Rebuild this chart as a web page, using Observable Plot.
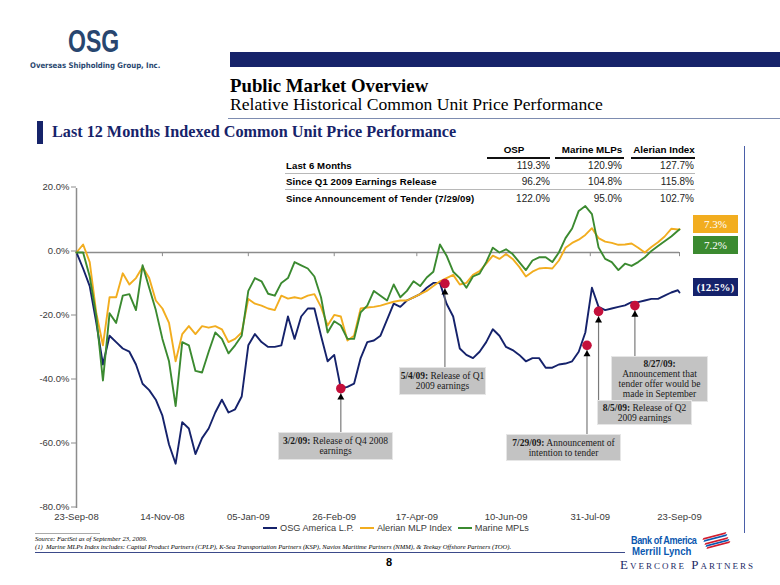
<!DOCTYPE html>
<html><head><meta charset="utf-8">
<script src="https://cdn.jsdelivr.net/npm/d3@7"></script>
<script src="https://cdn.jsdelivr.net/npm/@observablehq/plot@0.6"></script>
<style>
body{margin:0;background:#fff;}
#page{position:relative;width:780px;height:585px;overflow:hidden;font-family:"Liberation Sans",Arial,sans-serif;color:#000;}
#page svg{position:absolute;left:0;top:0;}
.abs{position:absolute;white-space:nowrap;}
.serif{font-family:"Liberation Serif","DejaVu Serif",serif;}
.box{position:absolute;background:#c3c3c3;border:1px solid #e6e6e6;font-family:"Liberation Serif",serif;font-size:9.5px;line-height:10px;color:#1a1a1a;text-align:center;box-sizing:border-box;display:flex;align-items:center;justify-content:center;}
.box b{font-weight:bold;}
.endlab{position:absolute;left:693px;width:45px;height:18px;color:#fff;font-family:"Liberation Serif",serif;font-size:11px;line-height:18px;text-align:center;}
</style></head><body><div id="page"></div>
<script>
// ---------- DATA ----------
const dates = ["2008-09-23","2008-09-27","2008-10-01","2008-10-05","2008-10-09","2008-10-13","2008-10-17","2008-10-21","2008-10-25","2008-10-29",
"2008-11-02","2008-11-06","2008-11-10","2008-11-14","2008-11-18","2008-11-22","2008-11-26","2008-11-30","2008-12-04","2008-12-08",
"2008-12-12","2008-12-16","2008-12-20","2008-12-24","2008-12-28","2009-01-01","2009-01-05","2009-01-09","2009-01-13","2009-01-17",
"2009-01-21","2009-01-25","2009-01-29","2009-02-02","2009-02-06","2009-02-10","2009-02-14","2009-02-18","2009-02-22","2009-02-26",
"2009-03-02","2009-03-06","2009-03-10","2009-03-14","2009-03-18","2009-03-22","2009-03-26","2009-03-30","2009-04-03","2009-04-07",
"2009-04-11","2009-04-15","2009-04-19","2009-04-23","2009-04-27","2009-05-01","2009-05-05","2009-05-09","2009-05-13","2009-05-17",
"2009-05-21","2009-05-25","2009-05-29","2009-06-02","2009-06-06","2009-06-10","2009-06-14","2009-06-18","2009-06-22","2009-06-26",
"2009-06-30","2009-07-04","2009-07-08","2009-07-12","2009-07-16","2009-07-20","2009-07-24","2009-07-28","2009-08-01","2009-08-05",
"2009-08-09","2009-08-13","2009-08-17","2009-08-21","2009-08-25","2009-08-29","2009-09-02","2009-09-06","2009-09-10","2009-09-14",
"2009-09-18","2009-09-22","2009-09-23"];
const osgValues = [0,-5,-10.5,-22,-35,-26,-28,-30,-31,-35,
-41,-43,-46,-51,-60,-66,-53,-55,-63,-58,
-55,-50,-46,-50,-49,-45,-29,-25.5,-28,-29.5,
-29.5,-29,-20,-27,-20,-17.5,-17.5,-26,-34,-32,
-42.5,-42,-41,-33,-28,-27.5,-26,-21,-16,-17,
-15,-14,-13,-11,-9.5,-9.5,-16,-20,-30,-32,
-33,-31,-28,-24,-26,-29.5,-30.5,-32,-34,-33,
-33,-36,-36,-35,-34.7,-34,-31,-25,-11,-17,
-18,-17.5,-17,-16.5,-15.5,-15.5,-15,-14.5,-14.5,-13.5,
-12.5,-11.8,-12.5];
const alerianValues = [0,2.5,-3,-19,-29,-14,-14,-6.5,-10,-8,
-4.5,-8,-15,-17.5,-22,-34,-25.5,-23,-25.5,-23,
-23.5,-23,-24,-28,-27,-25,-14.5,-16,-16.6,-17.5,
-18,-13.5,-14.4,-14,-14.4,-13.5,-13,-17,-22.8,-19.5,
-20,-27.5,-26,-17.5,-17.2,-17,-16.6,-16,-15.4,-15,
-15,-14,-13,-12,-10.5,-9,-8,-7,-10,-9.5,
-7,-5.8,-3.5,-1,-2,-0.5,-2,-4.5,-7.5,-6,
-5,-4.8,-5,-2.5,1.5,3,4,5.5,7.6,4.5,
3.4,3,2.4,2.5,2.8,1.5,0,1.7,3.2,5,
7.4,7.2,7.3];
const marineValues = [0,0,-7.5,-20,-40,-19,-22,-13.5,-13,-18,
-4,-11,-18,-27,-34,-48,-28,-29,-37,-37.5,
-31,-25,-27,-31.5,-29,-26,-12,-8,-9,-12.9,
-13.5,-9.5,-8,-3,-4,-5,-7.5,-14,-25,-21.5,
-22.8,-27,-27,-18.7,-16.6,-12,-13.5,-15,-10,-14,
-12,-9,-10.5,-7.8,-6,2.5,-1,-6,-8,-11,
-7.5,-6.6,-3,1.5,0,1,-0.5,-3,-5.5,-2.5,
-1.5,-1.5,-3,0,4.5,7.5,13,14.5,12,1.6,
-2,-3,-5.5,-3.5,-4.2,-3,-1.5,0.5,2,3.5,
5,6.8,7.2];
const seriesNames = ["OSG America L.P.","Alerian MLP Index","Marine MPLs"];
const seriesColors = ["#15226b","#f2ad1f","#3b8a30"];
const xTickDates = ["2008-09-23","2008-11-14","2009-01-05","2009-02-26","2009-04-17","2009-06-10","2009-07-31","2009-09-23"];
const yTicks = [20,0,-20,-40,-60,-80];

const eventDates = ["2009-03-02","2009-05-04","2009-07-29","2009-08-05","2009-08-27"];
const eventValues = [-42.5,-9.7,-29,-18.4,-16.6];
const eventBold = ["3/2/09:","5/4/09:","7/29/09:","8/5/09:","8/27/09:"];
const eventText = [" Release of Q4 2008<br>earnings"," Release of Q1<br>2009 earnings"," Announcement of<br>intention to tender"," Release of Q2<br>2009 earnings","<br>Announcement that<br>tender offer would be<br>made in September"];

const tableCols = ["OSP","Marine MLPs","Alerian Index"];
const tableRows = ["Last 6 Months","Since Q1 2009 Earnings Release","Since Announcement of Tender (7/29/09)"];
const ospPerf = [119.3,96.2,122.0];
const marinePerf = [120.9,104.8,95.0];
const alerianPerf = [127.7,115.8,102.7];

// ---------- LAYOUT (pixels) ----------
const boxLayout = [
  {left:278, top:432, w:115, h:28},
  {left:399, top:367, w:87, h:28},
  {left:506, top:434, w:115, h:27},
  {left:597, top:400, w:95, h:25},
  {left:611, top:356, w:97, h:46}
];
const boxOrder = [0,1,2,4,3];

const parse = d3.utcParse("%Y-%m-%d");
const allValues = [osgValues, alerianValues, marineValues];
const rows = [];
seriesNames.forEach((s,i)=>dates.forEach((d,j)=>rows.push({date:parse(d), value:allValues[i][j], series:s})));

const W=780,H=585,mL=76,mR=101,mT=188,mB=77;
const yS = Plot.scale({y:{domain:[-80,20], range:[H-mB, mT]}});
const events = eventDates.map((d,i)=>({date:parse(d), value:eventValues[i], boxTop:yS.invert(boxLayout[i].top)}));

const plot = Plot.plot({
  width:W, height:H, marginLeft:mL, marginRight:mR, marginTop:mT, marginBottom:mB,
  style:{fontFamily:"Liberation Sans, Arial, sans-serif", fontSize:"9.5px", background:"transparent", color:"#3a3a3a"},
  x:{type:"utc", domain:[parse(dates[0]), parse(dates[dates.length-1])], label:null},
  y:{domain:[-80,20], label:null},
  color:{domain:seriesNames, range:seriesColors},
  marks:[
    Plot.ruleY([0], {stroke:"#8c8c8c", strokeWidth:1.5}),
    Plot.ruleX(xTickDates.slice(1).map(parse), {y1:0, y2:-1.3, stroke:"#8c8c8c", strokeWidth:1}),
    Plot.ruleX([parse(dates[0])], {y1:-80, y2:20, stroke:"#8c8c8c", strokeWidth:1.5}),
    Plot.axisY({ticks:yTicks, tickFormat:d=>d.toFixed(1)+"%", tickSize:5, tickPadding:2, stroke:"#8c8c8c", fill:"#3a3a3a", label:null, dy:-1.5}),
    Plot.axisX({ticks:xTickDates.map(parse), tickFormat:d3.utcFormat("%d-%b-%y"), tickSize:0, tickPadding:4.5, fill:"#3a3a3a", label:null}),
    Plot.line(rows, {x:"date", y:"value", z:"series", stroke:"series", strokeWidth:1.9, strokeLinejoin:"round"}),
    Plot.ruleX(events, {x:"date", y1:"value", y2:"boxTop", stroke:"#7a7a7a", strokeWidth:1.2}),
    Plot.dot(events, {x:"date", y:"value", symbol:"triangle", r:2.6, fill:"#000", dy:9}),
    Plot.dot(events, {x:"date", y:"value", r:4.8, fill:"#c4103b"})
  ]
});

const page = document.getElementById("page");
page.appendChild(plot);

function add(html, style, cls){
  const el = document.createElement("div");
  el.className = "abs " + (cls||"");
  el.innerHTML = html;
  Object.assign(el.style, style);
  page.appendChild(el);
  return el;
}

// logo
add("OSG", {left:"68px", top:"24px", fontFamily:"'Liberation Sans',Arial,sans-serif", fontWeight:"bold", fontSize:"32px", lineHeight:"35.7px", color:"#28466f", transformOrigin:"left top", transform:"scaleX(0.72)"});
add("Overseas Shipholding Group, Inc.", {left:"30px", top:"60.5px", fontFamily:"'DejaVu Sans Condensed','DejaVu Sans',sans-serif", fontWeight:"bold", fontSize:"7.7px", lineHeight:"9px", color:"#28466f"});

// header band & titles
add("", {left:"230px", top:"52px", width:"550px", height:"15px", background:"#16236a"});
add("Public Market Overview", {left:"230px", top:"75px", fontSize:"18.8px", fontWeight:"bold", color:"#000"}, "serif");
add("Relative Historical Common Unit Price Performance", {left:"230px", top:"94px", fontSize:"17.6px", color:"#000"}, "serif");
add("", {left:"228px", top:"118px", width:"552px", height:"1px", background:"#7d8cb0"});
add("", {left:"37px", top:"121px", width:"6px", height:"23px", background:"#16236a"});
add("Last 12 Months Indexed Common Unit Price Performance", {left:"52px", top:"123px", fontSize:"16.2px", fontWeight:"bold", color:"#16236a"}, "serif");

// table
const colCenters = [514, 592, 664];
const colRights = [550, 622, 694];
const ulines = [[487,550],[555,624],[631,695]];
tableCols.forEach((c,i)=>{
  add(c, {left:(colCenters[i]-50)+"px", width:"100px", textAlign:"center", top:"144px", fontSize:"9.8px", fontWeight:"bold"});
  add("", {left:ulines[i][0]+"px", top:"157px", width:(ulines[i][1]-ulines[i][0])+"px", height:"2px", background:"#111"});
});
const perf = [ospPerf, marinePerf, alerianPerf];
const rowTops = [160, 176, 193];
tableRows.forEach((r,j)=>{
  add(r, {left:"286px", top:rowTops[j]+"px", fontSize:"9.6px", fontWeight:"bold", letterSpacing:"0.1px"});
  perf.forEach((p,i)=>{
    add(p[j].toFixed(1)+"%", {left:(colRights[i]-60)+"px", width:"60px", textAlign:"right", top:rowTops[j]+"px", fontSize:"10px", color:"#222"});
  });
  if (j<2) add("", {left:"285px", top:(rowTops[j]+13)+"px", width:"410px", height:"1px", background:"#b8b8b8"});
});

// end labels
function fmtEnd(v){ return v<0 ? "("+Math.abs(v).toFixed(1)+"%)" : v.toFixed(1)+"%"; }
const endTops = [215, 236, 278];
const endOrder = [1,2,0];
endOrder.forEach((si,k)=>{
  const v = allValues[si][allValues[si].length-1];
  add(fmtEnd(v), {top:endTops[k]+"px", background:seriesColors[si], fontWeight: si===0?"bold":"normal"}, "endlab");
});
add("", {left:"744px", top:"146px", width:"1px", height:"387px", background:"#4a5ea8"});

// annotation boxes
boxOrder.forEach(i=>{
  const b = boxLayout[i];
  const el = document.createElement("div");
  el.className = "box";
  Object.assign(el.style, {left:b.left+"px", top:b.top+"px", width:b.w+"px", height:b.h+"px"});
  el.innerHTML = "<div><b>"+eventBold[i]+"</b>"+eventText[i]+"</div>";
  page.appendChild(el);
});

// legend
const leg = add("", {left:"263px", top:"523px", display:"flex", alignItems:"center", fontSize:"9.2px", color:"#3a3a3a"});
seriesNames.forEach((s,i)=>{
  const sw = document.createElement("span");
  Object.assign(sw.style, {display:"inline-block", width:"14px", height:"2px", background:seriesColors[i], marginRight:"3px", marginLeft: i? "6px":"0"});
  const tx = document.createElement("span"); tx.textContent = s;
  leg.appendChild(sw); leg.appendChild(tx);
});

// footnotes
add("", {left:"35px", top:"533px", width:"65px", height:"1px", background:"#aaa"});
add("Source: FactSet as of September 23, 2009.", {left:"35px", top:"535px", fontSize:"6.6px", fontStyle:"italic"}, "serif");
add("(1)&nbsp; Marine MLPs Index includes: Capital Product Partners (CPLP), K-Sea Transportation Partners (KSP), Navios Maritime Partners (NMM), &amp; Teekay Offshore Partners (TOO).", {left:"35px", top:"543px", fontSize:"6.6px", fontStyle:"italic"}, "serif");
add("", {left:"35px", top:"552px", width:"590px", height:"1px", background:"#3b4a8a"});
add("8", {left:"386px", top:"556px", fontSize:"11px", fontWeight:"bold"});

// bank logos
add("Bank of America", {left:"631px", top:"533.5px", fontSize:"11px", lineHeight:"12.3px", fontWeight:"bold", color:"#0a58b0", letterSpacing:"-0.5px", transformOrigin:"left top", transform:"scaleX(0.83)"});
add("Merrill Lynch", {left:"632px", top:"546.3px", fontSize:"10px", lineHeight:"11.1px", fontWeight:"bold", color:"#0a58b0", transformOrigin:"left top", transform:"scaleX(0.96)"});
const flagCols = ["#d21c2e","#0a58b0","#d21c2e","#0a58b0","#d21c2e"];
flagCols.forEach((c,i)=>{
  add("", {left:(705+i*1)+"px", top:(535+i*2.3)+"px", width:"19px", height:"1.6px", background:c, transform:"skewX(-40deg) rotate(-18deg)"});
});
add("Evercore Partners", {left:"620px", top:"557.6px", fontSize:"13px", lineHeight:"14.4px", fontVariant:"small-caps", color:"#1c2a66", letterSpacing:"2px"}, "serif");
</script>
</body></html>
